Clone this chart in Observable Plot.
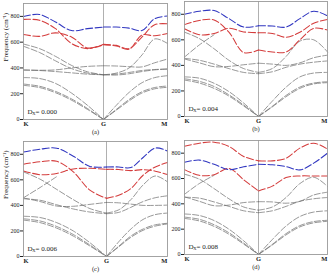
<!DOCTYPE html>
<html>
<head>
<meta charset="utf-8">
<script src="https://cdn.jsdelivr.net/npm/d3@7"></script>
<script src="https://cdn.jsdelivr.net/npm/@observablehq/plot@0.6"></script>
<style>
  body { margin: 0; background: #fff; width: 330px; height: 275px; overflow: hidden; position: relative; }
  .panel { position: absolute; }
</style>
</head>
<body>
<div id="pa" class="panel" style="left:0px;top:0px"></div>
<div id="pb" class="panel" style="left:161px;top:0px"></div>
<div id="pc" class="panel" style="left:0px;top:137px"></div>
<div id="pd" class="panel" style="left:161px;top:137px"></div>
<script>
// k-path sample positions: K = 0, G = 1, M = 2
const kpath = [0, 0.2, 0.4, 0.6, 0.8, 1, 1.2, 1.4, 1.6, 1.8, 2];
const kLabels = ["K", "G", "M"];
const kLabelPos = [0, 1, 2];
const yTicks = [0, 200, 400, 600, 800];
const captions = ["(a)", "(b)", "(c)", "(d)"];
const dxValues = ["0.000", "0.004", "0.006", "0.008"];

// Panel (a), Dx = 0.000  (frequencies in cm^-1)
const aBlue = [800, 815, 756, 690, 705, 717, 717, 709, 690, 782, 803];
const aRed = [
  [777, 770, 705, 590, 550, 583, 575, 550, 640, 735, 742],
  [660, 645, 672, 640, 555, 580, 570, 545, 655, 650, 668]
];
const aGray = [
  [585, 550, 490, 420, 370, 347, 360, 400, 500, 625, 590],
  [568, 520, 455, 395, 360, 347, 352, 365, 380, 388, 391],
  [385, 382, 385, 400, 412, 417, 415, 410, 408, 440, 469],
  [383, 380, 372, 362, 352, 347, 345, 355, 372, 385, 392],
  [325, 318, 280, 205, 110, 0, 110, 210, 285, 325, 340],
  [275, 258, 218, 160, 85, 0, 78, 155, 215, 248, 260],
  [265, 248, 208, 150, 78, 0, 72, 145, 205, 238, 250]
];

// Panel (b), Dx = 0.004
const bBlue = [800, 824, 829, 766, 700, 711, 708, 700, 766, 824, 787];
const bRed = [
  [719, 752, 755, 660, 500, 520, 505, 505, 600, 690, 676],
  [687, 640, 650, 690, 662, 656, 650, 620, 660, 730, 760]
];
const bGray = [
  [660, 610, 530, 440, 375, 345, 375, 470, 590, 600, 505],
  [465, 560, 640, null, null, null, null, null, null, null, null],
  [450, 420, 390, 392, 405, 417, 410, 400, 420, 460, 480],
  [455, 440, 410, 375, 345, 335, 350, 385, 410, 425, 435],
  [310, 300, 260, 195, 105, 0, 120, 230, 310, 340, 345],
  [295, 275, 235, 170, 90, 0, 80, 165, 230, 262, 272],
  [285, 262, 220, 160, 82, 0, 75, 155, 220, 255, 265]
];

// Panel (c), Dx = 0.006
const cBlue = [818, 840, 848, 785, 705, 701, 701, 696, 775, 849, 826];
const cRed = [
  [722, 742, 745, 662, 519, 455, 480, 532, 636, 701, 735],
  [670, 640, 650, 685, 690, 682, 681, 672, 680, 668, 641]
];
const cGray = [
  [662, 605, 525, 445, 375, 340, 365, 445, 560, 630, 584],
  [460, 540, 625, null, null, null, null, null, null, null, null],
  [458, 430, 395, 393, 408, 423, 420, 410, 400, 400, 402],
  [452, 440, 405, 372, 348, 335, 345, 385, 430, 460, 475],
  [315, 305, 265, 200, 108, 0, 115, 215, 290, 328, 340],
  [295, 278, 235, 172, 90, 0, 80, 160, 215, 248, 260],
  [285, 265, 222, 160, 82, 0, 75, 150, 205, 238, 255]
];

// Panel (d), Dx = 0.008
const dBlue = [729, 745, 712, 670, 692, 713, 708, 694, 668, 721, 800];
const dRed = [
  [855, 879, 887, 853, 774, 739, 739, 760, 840, 879, 832],
  [670, 625, 630, 680, 590, 502, 540, 607, 620, 620, 620]
];
const dGray = [
  [634, 595, 520, 440, 375, 350, 375, 450, 560, 610, 537],
  [475, 560, 625, null, null, null, null, null, null, null, null],
  [455, 420, 385, 390, 410, 417, 415, 405, 420, 470, 492],
  [452, 445, 415, 380, 345, 330, 345, 380, 420, 440, 450],
  [320, 308, 268, 200, 108, 0, 118, 225, 300, 335, 345],
  [295, 278, 235, 172, 90, 0, 80, 165, 228, 260, 270],
  [285, 265, 222, 160, 82, 0, 75, 155, 218, 250, 262]
];

const serif = "'Liberation Serif', 'Times New Roman', serif";

function panel(cfg) {
  // K-G and G-M segments have different lengths along the path
  const g = cfg.gFrac;
  const along = t => (t <= 1 ? t * g : g + (t - 1) * (1 - g));

  // Turn branches into rows, split at G so each half is its own curve
  function rows(branches, group) {
    const out = [];
    branches.forEach((vals, b) => {
      vals.forEach((v, i) => {
        if (v == null) return;
        const s = along(kpath[i]);
        if (i <= 5) out.push({s, v, key: `${group}${b}L`});
        if (i >= 5) out.push({s, v, key: `${group}${b}R`});
      });
    });
    return out;
  }

  const dash = {curve: "catmull-rom", x: "s", y: "v", z: "key"};
  const marks = [
    Plot.ruleX([along(1)], {stroke: "#b0b0b0", strokeWidth: 1}),
    Plot.line(rows(cfg.gray, "g"), {...dash, stroke: "#6a6a6a", strokeWidth: 0.7, strokeDasharray: "6,2.2"}),
    Plot.line(rows(cfg.red, "r"), {...dash, stroke: "#d43c3c", strokeWidth: 1.05, strokeDasharray: "7,2.5"}),
    Plot.line(rows([cfg.blue], "b"), {...dash, stroke: "#3036c0", strokeWidth: 1.05, strokeDasharray: "7,2.5"}),
    Plot.frame({stroke: "#9a9a9a", strokeWidth: 0.9}),
    // k-point labels under the axis
    ...kLabels.map((lab, i) => Plot.text([lab], {
      x: [along(kLabelPos[i])], y: [0], text: d => d, lineAnchor: "top", dy: 1.5,
      textAnchor: i === 0 ? "start" : i === 2 ? "end" : "middle",
      fontSize: 6.5, fontWeight: "bold", fill: "#222"
    })),
    // panel caption
    Plot.text([cfg.caption], {frameAnchor: "bottom", text: d => d, dy: 14, fontSize: 6.5, fill: "#222"}),
    // D_X = value
    Plot.text(["D"], {frameAnchor: "bottom-left", text: d => d, textAnchor: "start", lineAnchor: "bottom", dx: 4, dy: -6, fontSize: 7, fill: "#222"}),
    Plot.text(["X"], {frameAnchor: "bottom-left", text: d => d, textAnchor: "start", lineAnchor: "bottom", dx: 8.8, dy: -4.5, fontSize: 4.5, fill: "#222"}),
    Plot.text([`= ${cfg.dx}`], {frameAnchor: "bottom-left", text: d => d, textAnchor: "start", lineAnchor: "bottom", dx: 12, dy: -6, fontSize: 7, fill: "#222"})
  ];
  if (cfg.ylabel) {
    marks.push(Plot.text(["Frequency (cm⁻¹)"], {
      frameAnchor: "left", text: d => d, rotate: -90, dx: -18, fontSize: 7, fill: "#222"
    }));
  }
  const chart = Plot.plot({
    width: cfg.width,
    height: cfg.height,
    marginLeft: 23,
    marginRight: cfg.right,
    marginTop: cfg.top,
    marginBottom: cfg.height - cfg.bottom,
    style: {fontFamily: serif, fontSize: "6px", background: "transparent", color: "#222"},
    x: {domain: [0, 1], axis: null},
    y: {domain: [0, 900], ticks: yTicks, tickSize: 3, tickPadding: 1, label: null},
    marks
  });
  document.getElementById(cfg.id).appendChild(chart);
}

panel({id: "pa", width: 170, right: 3, height: 137, top: 3, bottom: 119, gFrac: 80 / 144,
  blue: aBlue, red: aRed, gray: aGray, caption: captions[0], dx: dxValues[0], ylabel: true});
panel({id: "pb", width: 169, right: 3, height: 134, top: 1, bottom: 116, gFrac: 74 / 143,
  blue: bBlue, red: bRed, gray: bGray, caption: captions[1], dx: dxValues[1], ylabel: false});
panel({id: "pc", width: 170, right: 3, height: 138, top: 4, bottom: 119, gFrac: 83 / 144,
  blue: cBlue, red: cRed, gray: cGray, caption: captions[2], dx: dxValues[2], ylabel: true});
panel({id: "pd", width: 169, right: 3, height: 138, top: 3, bottom: 117, gFrac: 74 / 143,
  blue: dBlue, red: dRed, gray: dGray, caption: captions[3], dx: dxValues[3], ylabel: false});
</script>
</body>
</html>
